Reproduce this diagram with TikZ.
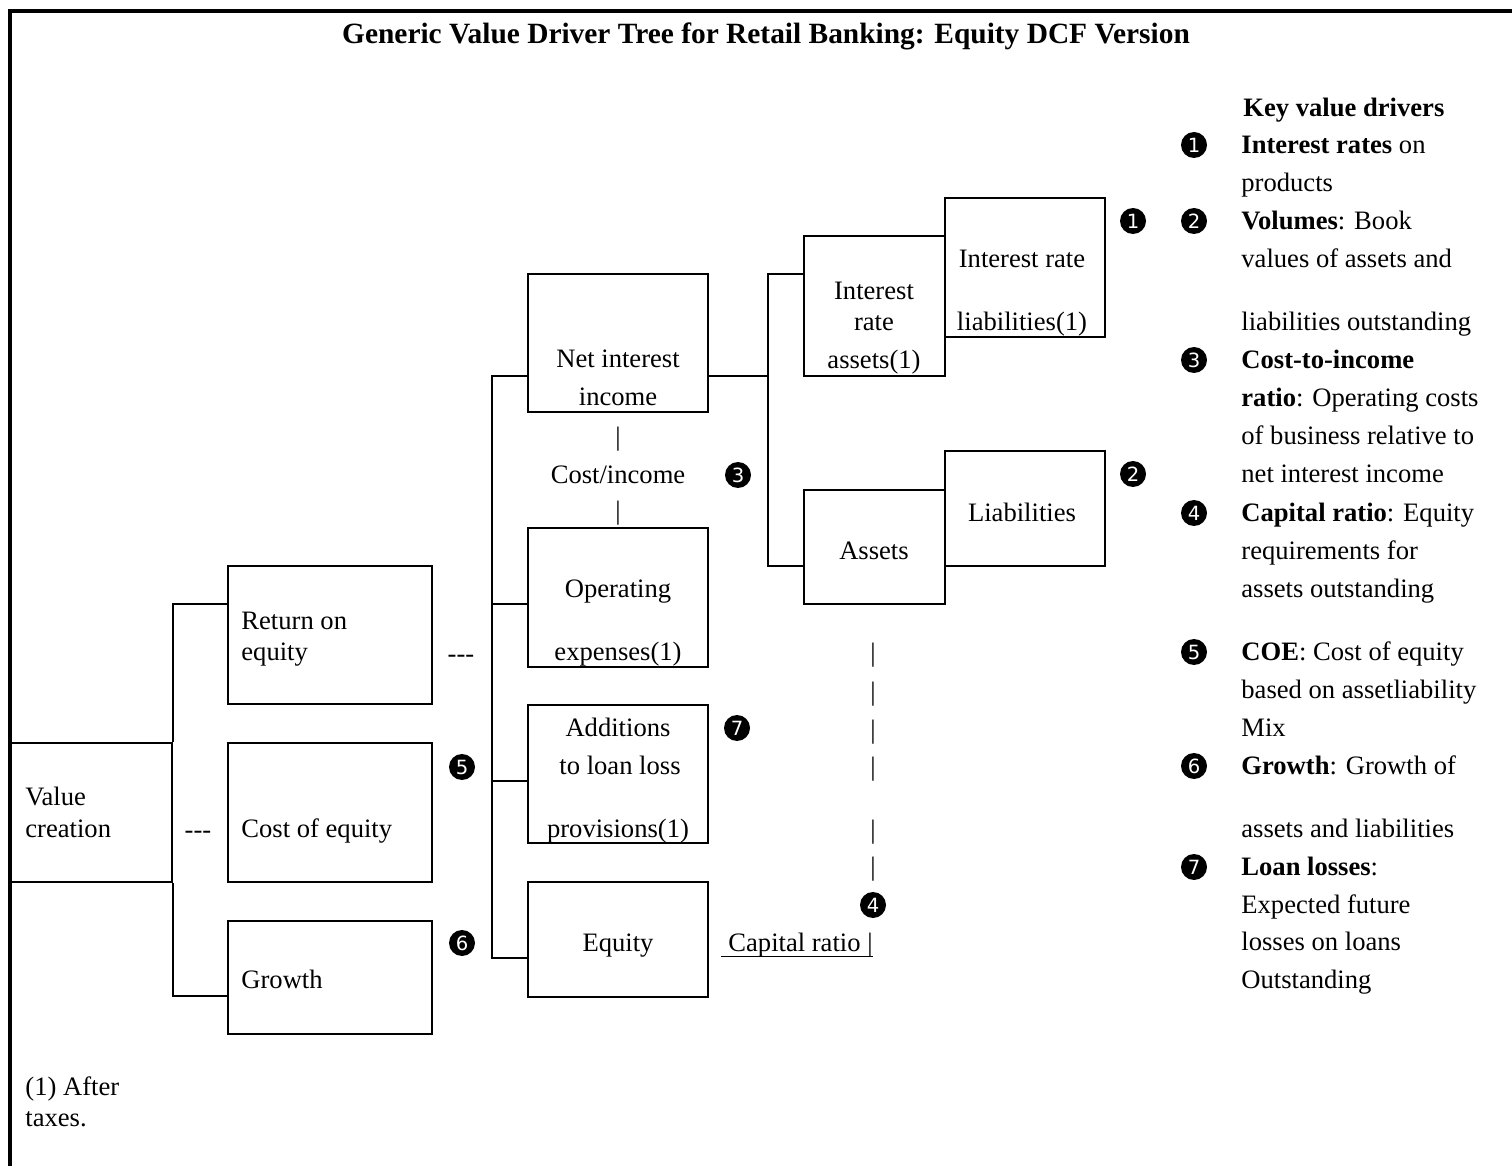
\documentclass[tikz,border=0pt]{standalone}
\usepackage{fontspec}
\setmainfont{Liberation Serif}
\setsansfont{DejaVu Sans}
\usetikzlibrary{fit}

\tikzset{
  every node/.style={font=\fontsize{13.3}{16}\selectfont},
  box/.style={draw, line width=1pt, inner sep=0pt},
  conn/.style={line width=1pt},
  txt/.style={inner sep=0pt, anchor=mid, yshift=-2pt},
  ltxt/.style={inner sep=0pt, anchor=mid west, yshift=-2pt},
  marker/.style={circle, fill=black, text=white, inner sep=0pt, minimum size=13pt,
    font=\fontsize{9.8}{10}\sffamily},
}
\newcommand{\dashes}{-{}-{}-}

\begin{document}
\begin{tikzpicture}[x=0.5pt, y=-0.5pt]
\useasboundingbox (0,0) rectangle (1512,1166);

% frame
\draw[line width=1.8pt] (10,1166) -- (10,11) -- (1512,11);

% title
\node[txt, font=\fontsize{14.7}{17}\selectfont\bfseries] (title) at (766,35) {Generic Value Driver Tree for Retail Banking: Equity DCF Version};

% boxes
\node[box, fit={(10,743) (172,882)}] (vc) {};
\node[box, fit={(228,566) (432,704)}] (roe) {};
\node[box, fit={(228,743) (432,882)}] (coe) {};
\node[box, fit={(228,921) (432,1034)}] (gro) {};
\node[box, fit={(528,274) (708,412)}] (nii) {};
\node[box, fit={(528,528) (708,667)}] (opx) {};
\node[box, fit={(528,705) (708,843)}] (add) {};
\node[box, fit={(528,882) (708,997)}] (eq) {};
\node[box, fit={(804,236) (945,376)}] (ira) {};
\node[box, fit={(945,198) (1105,337)}] (irl) {};
\node[box, fit={(804,490) (945,604)}] (ast) {};
\node[box, fit={(945,451) (1105,566)}] (lia) {};

% first level connectors
\draw[conn] (vc.north east) |- ([yshift=15.5pt]roe.west);
\draw[conn] (vc.south east) |- ([yshift=-9.25pt]gro.west);

% second level connectors
\coordinate (t2) at (492,0);
\coordinate (n1) at ([yshift=-16.5pt]nii.west);
\coordinate (n2) at ([yshift=-3.25pt]opx.west);
\coordinate (n3) at ([yshift=-3.5pt]add.west);
\coordinate (n4) at ([yshift=-9.25pt]eq.west);
\draw[conn] (n1) -- (n1 -| t2) -- (n4 -| t2) -- (n4);
\draw[conn] (n2 -| t2) -- (n2);
\draw[conn] (n3 -| t2) -- (n3);

% third level connectors
\coordinate (t3) at (768,0);
\coordinate (n1e) at ([yshift=-16.5pt]nii.east);
\coordinate (a1) at ([yshift=16pt]ira.west);
\coordinate (a2) at ([yshift=-9.5pt]ast.west);
\draw[conn] (n1e) -- (n1e -| t3);
\draw[conn] (a1) -- (a1 -| t3) -- (a2 -| t3) -- (a2);

% box texts
\node[ltxt] (vc1) at (25,797) {Value};
\node[ltxt] (vc2) at (25,829) {creation};
\node[txt] (d1) at (198,830) {\dashes};
\node[ltxt] (roe1) at (241,621) {Return on};
\node[ltxt] (roe2) at (241,652) {equity};
\node[ltxt] (coe1) at (241,829) {Cost of equity};
\node[ltxt] (gro1) at (241,980) {Growth};
\node[txt] (d2) at (461,654) {\dashes};

\node[txt] (nii1) at (618,359) {Net interest};
\node[txt] (nii2) at (618,397) {income};
\node[txt] (ci1) at (618,437) {|};
\node[txt] (ci) at (618,475) {Cost/income};
\node[txt] (ci2) at (618,511) {|};
\node[txt] (opx1) at (618,589) {Operating};
\node[txt] (opx2) at (618,652) {expenses(1)};
\node[txt] (add1) at (618,728) {Additions};
\node[txt] (add2) at (620,766) {to loan loss};
\node[txt] (add3) at (618,829) {provisions(1)};
\node[txt] (eq1) at (618,943) {Equity};

\node[txt] (ira1) at (874,291) {Interest};
\node[txt] (ira2) at (874,322) {rate};
\node[txt] (ira3) at (874,360) {assets(1)};
\node[txt] (irl1) at (1022,259) {Interest rate};
\node[txt] (irl2) at (1022,322) {liabilities(1)};
\node[txt] (ast1) at (874,551) {Assets};
\node[txt] (lia1) at (1022,513) {Liabilities};

% capital ratio link
\foreach \yy [count=\i] in {653,692,730,767,830,867}
  \node[txt] (bar\i) at (873,\yy) {|};
\node[inner sep=0pt, anchor=mid east, yshift=-2pt] (capt) at (873,943) {\ Capital ratio |};
\draw[line width=0.8pt] ([yshift=-2.4pt]capt.base west) -- ([yshift=-2.4pt]capt.base east);

% driver markers on the tree
\node[marker] (m1) at (1133,221) {1};
\node[marker] (m2) at (1133,474) {2};
\node[marker] (m3) at (738,475) {3};
\node[marker] (m4) at (873,905) {4};
\node[marker] (m5) at (462,767) {5};
\node[marker] (m6) at (462,943) {6};
\node[marker] (m7) at (737,728) {7};

% key value drivers
\node[ltxt] (key) at (1243,108) {\bfseries Key value drivers};
\node[marker] (k1) at (1194,145) {1};
\node[ltxt] at (1241,145) {\textbf{Interest rates} on};
\node[ltxt] at (1241,183) {products};
\node[marker] (k2) at (1194,221) {2};
\node[ltxt] at (1241,221) {\textbf{Volumes}: Book};
\node[ltxt] at (1241,259) {values of assets and};
\node[ltxt] at (1241,322) {liabilities outstanding};
\node[marker] (k3) at (1194,360) {3};
\node[ltxt] at (1241,360) {\textbf{Cost-to-income}};
\node[ltxt] at (1241,398) {\textbf{ratio}: Operating costs};
\node[ltxt] at (1241,436) {of business relative to};
\node[ltxt] at (1241,474) {net interest income};
\node[marker] (k4) at (1194,513) {4};
\node[ltxt] at (1241,513) {\textbf{Capital ratio}: Equity};
\node[ltxt] at (1241,551) {requirements for};
\node[ltxt] at (1241,589) {assets outstanding};
\node[marker] (k5) at (1194,652) {5};
\node[ltxt] at (1241,652) {\textbf{COE}: Cost of equity};
\node[ltxt] at (1241,690) {based on assetliability};
\node[ltxt] at (1241,728) {Mix};
\node[marker] (k6) at (1194,766) {6};
\node[ltxt] at (1241,766) {\textbf{Growth}: Growth of};
\node[ltxt] at (1241,829) {assets and liabilities};
\node[marker] (k7) at (1194,867) {7};
\node[ltxt] at (1241,867) {\textbf{Loan losses}:};
\node[ltxt] at (1241,905) {Expected future};
\node[ltxt] at (1241,942) {losses on loans};
\node[ltxt] at (1241,980) {Outstanding};

% footnote
\node[ltxt] (fn1) at (25,1087) {(1) After};
\node[ltxt] (fn2) at (25,1118) {taxes.};
\end{tikzpicture}
\end{document}
